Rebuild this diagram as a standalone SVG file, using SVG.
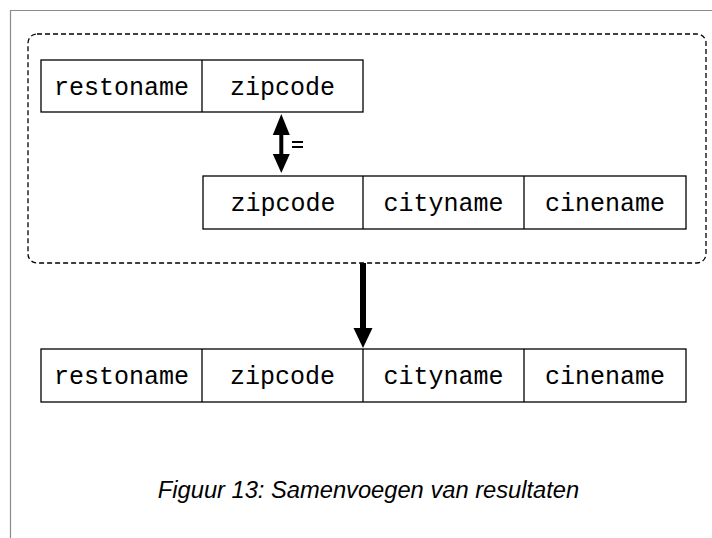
<svg xmlns="http://www.w3.org/2000/svg" width="712" height="538" viewBox="0 0 712 538">
  <defs>
    <style>
      .cell { fill: #ffffff; stroke: #000000; stroke-width: 1.3; }
      .div { stroke: #000000; stroke-width: 1.3; }
      .lbl { font-family: "Liberation Mono", "Courier New", monospace; font-size: 25px; fill: #000000; text-anchor: middle; }
      .frame { fill: none; stroke: #8c8c8c; stroke-width: 1.2; }
      .group { fill: none; stroke: #000000; stroke-width: 1.3; stroke-dasharray: 5 3; }
      .shaft { stroke: #000000; fill: none; }
      .head { fill: #000000; }
      .caption { font-family: "Liberation Sans", Arial, sans-serif; font-style: italic; font-size: 23.7px; fill: #000000; text-anchor: middle; }
      .eq { stroke: #000000; stroke-width: 2; }
    </style>
  </defs>

  <rect width="712" height="538" fill="#ffffff"/>

  <!-- page frame -->
  <path class="frame" d="M10.5 538 V10.5 H712"/>

  <!-- dashed grouping box -->
  <rect class="group" x="28" y="34" width="678" height="229" rx="9" ry="9"/>

  <!-- table: restaurants -->
  <g id="table-resto">
    <rect class="cell" x="41" y="60" width="322" height="52"/>
    <line class="div" x1="202" y1="60" x2="202" y2="112"/>
    <text class="lbl" x="121.5" y="95">restoname</text>
    <text class="lbl" x="282.5" y="95">zipcode</text>
  </g>

  <!-- table: cities -->
  <g id="table-city">
    <rect class="cell" x="203" y="176" width="483" height="53"/>
    <line class="div" x1="363" y1="176" x2="363" y2="229"/>
    <line class="div" x1="524" y1="176" x2="524" y2="229"/>
    <text class="lbl" x="283" y="211">zipcode</text>
    <text class="lbl" x="443.5" y="211">cityname</text>
    <text class="lbl" x="605" y="211">cinename</text>
  </g>

  <!-- table: joined result -->
  <g id="table-result">
    <rect class="cell" x="41" y="349" width="645" height="53"/>
    <line class="div" x1="202" y1="349" x2="202" y2="402"/>
    <line class="div" x1="363" y1="349" x2="363" y2="402"/>
    <line class="div" x1="524" y1="349" x2="524" y2="402"/>
    <text class="lbl" x="121.5" y="384">restoname</text>
    <text class="lbl" x="282.5" y="384">zipcode</text>
    <text class="lbl" x="443.5" y="384">cityname</text>
    <text class="lbl" x="605" y="384">cinename</text>
  </g>

  <!-- connectors -->
  <g id="connectors">
    <!-- join condition: double-headed arrow with equality sign -->
    <line class="shaft" x1="281.3" y1="130" x2="281.3" y2="158" stroke-width="4"/>
    <polygon class="head" points="281.3,114 272.8,135 289.8,135"/>
    <polygon class="head" points="281.3,173 272.8,154 289.8,154"/>
    <line class="eq" x1="292" y1="142" x2="303" y2="142"/>
    <line class="eq" x1="292" y1="147" x2="303" y2="147"/>

    <!-- result arrow -->
    <line class="shaft" x1="363" y1="263" x2="363" y2="332" stroke-width="6"/>
    <polygon class="head" points="363,348 353.5,328 372.5,328"/>
  </g>

  <text class="caption" x="368.5" y="498">Figuur 13: Samenvoegen van resultaten</text>
</svg>
